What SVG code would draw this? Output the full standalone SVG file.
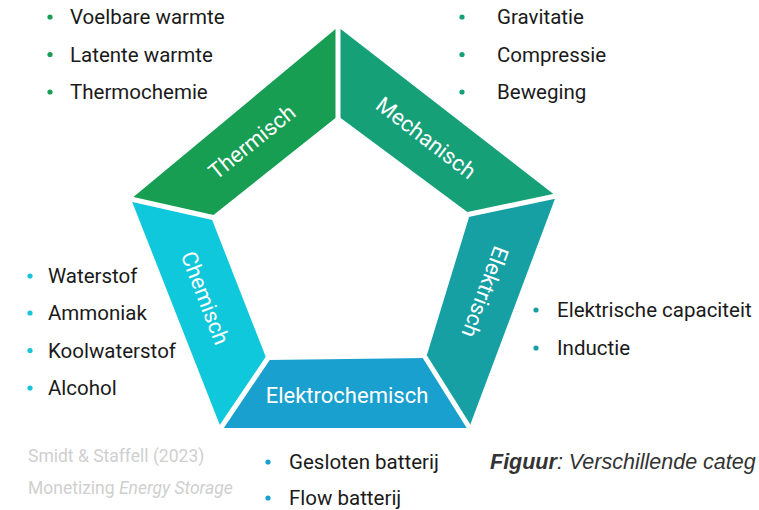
<svg xmlns="http://www.w3.org/2000/svg" width="759" height="510" viewBox="0 0 759 510">
<style>
.t{font-family:Roboto,"Liberation Sans",sans-serif;font-size:20.5px;fill:#1a1a1a}
.lbl{font-family:Roboto,"Liberation Sans",sans-serif;font-size:22px;fill:#ffffff;text-anchor:middle;dominant-baseline:central}
.src{font-family:Roboto,"Liberation Sans",sans-serif;font-size:17.5px;fill:#cfcfcf}
.cap{font-family:"Liberation Sans",Arial,sans-serif;font-size:21.5px;fill:#333333;font-style:italic}
.div{stroke:#ffffff;stroke-width:5;fill:none}
</style>
<rect width="759" height="510" fill="#ffffff"/>
<g id="thermisch">
<polygon points="131,199 338,27 338,116 211,217" fill="#179e52"/>
<text class="lbl" transform="translate(252,142) rotate(-38.8)">Thermisch</text>
</g>
<g id="mechanisch">
<polygon points="338,27 556,196 470,214 338,116" fill="#15a078"/>
<text class="lbl" transform="translate(426,138) rotate(37.5)">Mechanisch</text>
</g>
<g id="elektrisch">
<polygon points="556,196 469,428 426,358 470,214" fill="#16a0a4"/>
<text class="lbl" transform="translate(485,292) rotate(110.6)">Elektrisch</text>
</g>
<g id="elektrochemisch">
<polygon points="469,428 221,428 267,360 426,358" fill="#1aa0ce"/>
<text class="lbl" x="347" y="395">Elektrochemisch</text>
</g>
<g id="chemisch">
<polygon points="221,428 131,199 211,217 267,360" fill="#10c8dc"/>
<text class="lbl" transform="translate(205,298) rotate(69)">Chemisch</text>
</g>
<g id="connectors">
<line class="div" x1="338" y1="20" x2="338" y2="118"/>
<line class="div" x1="124" y1="197.5" x2="213" y2="217.5"/>
<line class="div" x1="563" y1="194.5" x2="468" y2="214.5"/>
<line class="div" x1="474" y1="435" x2="425" y2="357"/>
<line class="div" x1="216" y1="435" x2="268" y2="358"/>
</g>
<g id="list-thermisch">
<circle cx="50" cy="17" r="2.6" fill="#1a9e55"/><text class="t" x="70" y="24">Voelbare warmte</text>
<circle cx="50" cy="54.5" r="2.6" fill="#1a9e55"/><text class="t" x="70" y="61.5">Latente warmte</text>
<circle cx="50" cy="92" r="2.6" fill="#1a9e55"/><text class="t" x="70" y="99">Thermochemie</text>
</g>
<g id="list-mechanisch">
<circle cx="462" cy="17" r="2.6" fill="#15a078"/><text class="t" x="497" y="24">Gravitatie</text>
<circle cx="462" cy="54.5" r="2.6" fill="#15a078"/><text class="t" x="497" y="61.5">Compressie</text>
<circle cx="462" cy="92" r="2.6" fill="#15a078"/><text class="t" x="497" y="99">Beweging</text>
</g>
<g id="list-chemisch">
<circle cx="30" cy="276" r="2.6" fill="#19c3d9"/><text class="t" x="48" y="283">Waterstof</text>
<circle cx="30" cy="313" r="2.6" fill="#19c3d9"/><text class="t" x="48" y="320">Ammoniak</text>
<circle cx="30" cy="350.5" r="2.6" fill="#19c3d9"/><text class="t" x="48" y="357.5">Koolwaterstof</text>
<circle cx="30" cy="388" r="2.6" fill="#19c3d9"/><text class="t" x="48" y="395">Alcohol</text>
</g>
<g id="list-elektrisch">
<circle cx="536" cy="310" r="2.6" fill="#16a0a4"/><text class="t" x="557" y="317">Elektrische capaciteit</text>
<circle cx="536" cy="348" r="2.6" fill="#16a0a4"/><text class="t" x="557" y="355">Inductie</text>
</g>
<g id="list-elektrochemisch">
<circle cx="268" cy="462" r="2.6" fill="#1aa0ce"/><text class="t" x="289" y="469">Gesloten batterij</text>
<circle cx="268" cy="498" r="2.6" fill="#1aa0ce"/><text class="t" x="289" y="505">Flow batterij</text>
</g>
<g id="source">
<text class="src" x="28" y="462">Smidt &amp; Staffell (2023)</text>
<text class="src" x="28" y="494">Monetizing <tspan font-style="italic">Energy Storage</tspan></text>
</g>
<g id="caption">
<text class="cap" x="490" y="469"><tspan font-weight="bold">Figuur</tspan>: Verschillende categ</text>
</g>
</svg>
